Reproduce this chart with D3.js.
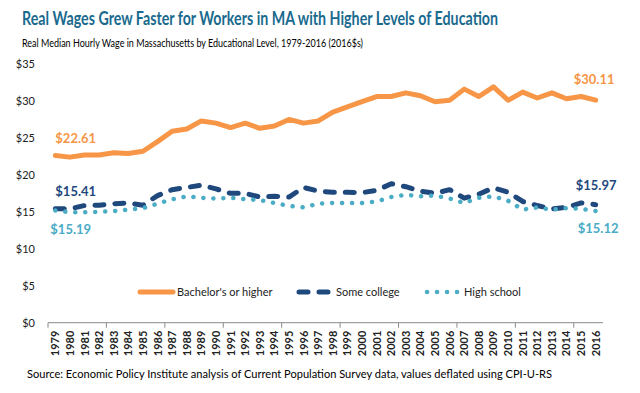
<!DOCTYPE html>
<html>
<head>
<meta charset="utf-8">
<script src="https://cdn.jsdelivr.net/npm/d3@7"></script>
<style>
  body { margin: 0; background: #fff; }
  svg { display: block; font-family: Lato, "Open Sans", sans-serif; }
</style>
</head>
<body>
<div id="chart"></div>
<script>
// data
const years = d3.range(1979, 2017).map(String);

const bachelors = [22.61, 22.4, 22.7, 22.7, 23.0, 22.9, 23.2, 24.5, 25.9, 26.2,
  27.3, 27.0, 26.4, 27.0, 26.3, 26.6, 27.5, 27.0, 27.3, 28.5,
  29.2, 29.9, 30.6, 30.6, 31.1, 30.7, 29.9, 30.1, 31.6, 30.6,
  31.9, 30.1, 31.2, 30.4, 31.1, 30.3, 30.6, 30.11];

const someCollege = [15.41, 15.4, 15.85, 15.9, 16.1, 16.2, 15.9, 17.2, 18.0, 18.3,
  18.6, 18.1, 17.5, 17.5, 17.0, 17.1, 17.0, 18.3, 17.8, 17.65,
  17.65, 17.6, 17.9, 18.8, 18.4, 17.8, 17.5, 18.0, 16.85, 17.4,
  18.25, 17.65, 16.4, 15.85, 15.4, 15.6, 16.2, 15.97];

const highSchool = [15.19, 14.95, 14.95, 15.0, 15.1, 15.3, 15.5, 16.1, 16.7, 17.1,
  16.9, 16.8, 16.9, 16.7, 16.6, 16.2, 15.8, 15.6, 16.1, 16.2,
  16.2, 16.2, 16.4, 17.0, 17.3, 17.1, 17.2, 16.8, 16.2, 16.9,
  17.1, 16.5, 15.3, 15.6, 15.3, 15.5, 15.4, 15.12];

const yTicks = [0, 5, 10, 15, 20, 25, 30, 35];
const seriesNames = ["Bachelor's or higher", "Some college", "High school"];

const width = 640, height = 393;
const margin = { top: 64, right: 37, bottom: 71, left: 48 };

const svg = d3.select("#chart").append("svg")
  .attr("width", width)
  .attr("height", height);

const x = d3.scaleBand()
  .domain(years)
  .range([margin.left, width - margin.right]);

const y = d3.scaleLinear()
  .domain([0, 35])
  .range([height - margin.bottom + 0.7, margin.top]);

// titles
svg.append("text")
  .attr("x", 22).attr("y", 25)
  .attr("fill", "#1a6a8e")
  .attr("font-size", 18).attr("font-weight", "bold")
  .attr("textLength", 476).attr("lengthAdjust", "spacingAndGlyphs")
  .text("Real Wages Grew Faster for Workers in MA with Higher Levels of Education");

svg.append("text")
  .attr("x", 22).attr("y", 47)
  .attr("fill", "#000")
  .attr("font-size", 11)
  .attr("textLength", 341).attr("lengthAdjust", "spacingAndGlyphs")
  .text("Real Median Hourly Wage in Massachusetts by Educational Level, 1979-2016 (2016$s)");

// y axis labels only
svg.append("g")
  .selectAll("text")
  .data(yTicks)
  .join("text")
  .attr("x", 35)
  .attr("y", d => y(d) + 4)
  .attr("text-anchor", "end")
  .attr("font-size", 11)
  .attr("fill", "#222")
  .text(d => "$" + d);

// x axis
const xAxis = d3.axisBottom(x)
  .tickValues(years.filter((d, i) => i % 4 === 0))
  .tickSize(0)
  .tickFormat("");

const gx = svg.append("g")
  .attr("transform", `translate(0,${y(0)})`)
  .call(xAxis);
gx.select(".domain").attr("stroke", "#898989").attr("d", `M${x.range()[0]},0H${x.range()[1]}`);
gx.selectAll(".tick line")
  .attr("transform", `translate(${-x.bandwidth() / 2},0)`)
  .attr("y2", 5)
  .attr("stroke", "#898989");

svg.append("g")
  .selectAll("text")
  .data(years)
  .join("text")
  .attr("transform", d => `translate(${x(d) + x.bandwidth() / 2 + 4},${y(0) + 8}) rotate(-90)`)
  .attr("text-anchor", "end")
  .attr("font-size", 11)
  .attr("font-weight", "bold")
  .attr("fill", "#222")
  .text(d => d);

// lines
const line = d3.line()
  .x((d, i) => x(years[i]) + x.bandwidth() / 2)
  .y(d => y(d));

const styles = [
  { data: bachelors, color: "#f79646", width: 5, dash: null, cap: "round" },
  { data: someCollege, color: "#1f497d", width: 5, dash: "9,11", cap: "round" },
  { data: highSchool, color: "#4bacc6", width: 4.5, dash: "0.1,9.9", cap: "round" }
];

svg.append("g")
  .selectAll("path")
  .data(styles)
  .join("path")
  .attr("fill", "none")
  .attr("stroke", d => d.color)
  .attr("stroke-width", d => d.width)
  .attr("stroke-dasharray", d => d.dash)
  .attr("stroke-linecap", d => d.cap)
  .attr("stroke-linejoin", "round")
  .attr("d", d => line(d.data));

// end labels
const last = years.length - 1;
const labels = [
  { v: bachelors[0], i: 0, dx: 0, dy: -13, color: "#f79646" },
  { v: bachelors[last], i: last, dx: -22, dy: -16, color: "#f79646" },
  { v: someCollege[0], i: 0, dx: 0, dy: -13, color: "#1f497d" },
  { v: someCollege[last], i: last, dx: -20, dy: -15, color: "#1f497d" },
  { v: highSchool[0], i: 0, dx: -5, dy: 24, color: "#4bacc6" },
  { v: highSchool[last], i: last, dx: -18, dy: 22, color: "#4bacc6" }
];

svg.append("g")
  .selectAll("text")
  .data(labels)
  .join("text")
  .attr("x", d => x(years[d.i]) + x.bandwidth() / 2 + d.dx)
  .attr("y", d => y(d.v) + d.dy)
  .attr("fill", d => d.color)
  .attr("font-size", 13)
  .attr("font-weight", "bold")
  .text(d => "$" + d.v.toFixed(2));

// legend
const legendX = [138, 297, 425];
const legend = svg.append("g").attr("transform", "translate(0,292)");
styles.forEach((s, i) => {
  legend.append("line")
    .attr("x1", legendX[i] + 2).attr("x2", legendX[i] + 35)
    .attr("y1", 0).attr("y2", 0)
    .attr("stroke", s.color)
    .attr("stroke-width", s.width)
    .attr("stroke-dasharray", s.dash)
    .attr("stroke-linecap", s.cap);
  legend.append("text")
    .attr("x", legendX[i] + 39).attr("y", 4)
    .attr("font-size", 11)
    .attr("fill", "#222")
    .text(seriesNames[i]);
});

svg.append("text")
  .attr("x", 27).attr("y", 378)
  .attr("font-size", 11)
  .attr("fill", "#000")
  .attr("textLength", 525).attr("lengthAdjust", "spacingAndGlyphs")
  .text("Source: Economic Policy Institute analysis of Current Population Survey data, values deflated using CPI-U-RS");
</script>
</body>
</html>
